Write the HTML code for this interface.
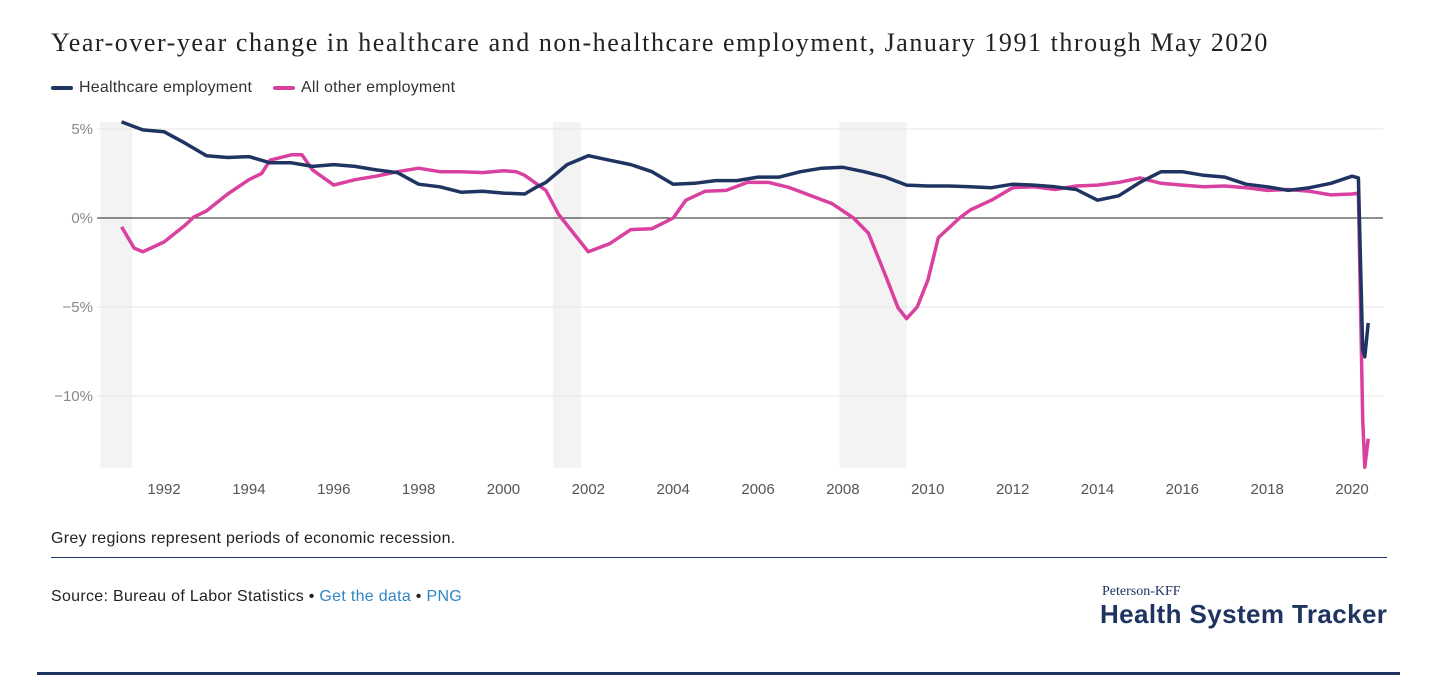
<!DOCTYPE html>
<html><head><meta charset="utf-8"><style>
body{margin:0;background:#fff;width:1440px;height:683px;overflow:hidden;font-family:"Liberation Sans",sans-serif;position:relative}
.t{position:absolute;white-space:nowrap}
</style></head><body>
<div class="t" style="left:51px;top:28px;font-family:'Liberation Serif',serif;font-size:26px;letter-spacing:1.55px;color:#222">Year-over-year change in healthcare and non-healthcare employment, January 1991 through May 2020</div>
<div class="t" style="left:51px;top:79px;font-size:16px;letter-spacing:0.2px;color:#333"><span style="display:inline-block;width:22px;height:4px;background:#1f3461;vertical-align:middle;margin-right:6px;border-radius:2px"></span>Healthcare employment</div>
<div class="t" style="left:273px;top:79px;font-size:16px;letter-spacing:0.2px;color:#333"><span style="display:inline-block;width:22px;height:4px;background:#d9409f;vertical-align:middle;margin-right:6px;border-radius:2px"></span>All other employment</div>
<svg id="chart" width="1440" height="520" style="position:absolute;left:0;top:0"></svg>
<div class="t" style="left:51px;top:530px;font-size:16px;letter-spacing:0.3px;color:#222">Grey regions represent periods of economic recession.</div>
<div style="position:absolute;left:51px;top:557px;width:1336px;height:1px;background:#1f3461"></div>
<div class="t" style="left:51px;top:588px;font-size:16px;letter-spacing:0.3px;color:#222">Source: Bureau of Labor Statistics • <span style="color:#2f86c4">Get the data</span> • <span style="color:#2f86c4">PNG</span></div>
<div class="t" style="left:1102px;top:584px;font-family:'Liberation Serif',serif;font-size:14px;color:#1f3461">Peterson-KFF</div>
<div class="t" style="left:1100px;top:599px;font-weight:bold;font-size:26px;color:#1f3461;letter-spacing:0.4px">Health System Tracker</div>
<div style="position:absolute;left:37px;top:672px;width:1363px;height:3px;background:#1f3461"></div>
<script>
const yTicks=[5,0,-5,-10];
const yTickLabels=["5%","0%","\u22125%","\u221210%"];
const xTicks=[1992,1994,1996,1998,2000,2002,2004,2006,2008,2010,2012,2014,2016,2018,2020];
const recessions=[[1990.5,1991.25],[2001.17,2001.83],[2007.92,2009.5]];
const hcT=[1991,1991.5,1992,1992.5,1993,1993.5,1994,1994.5,1995,1995.5,1996,1996.5,1997,1997.5,1998,1998.5,1999,1999.5,2000,2000.5,2000.75,2001,2001.5,2002,2002.5,2003,2003.5,2004,2004.5,2005,2005.5,2006,2006.5,2007,2007.5,2008,2008.5,2009,2009.5,2010,2010.5,2011,2011.5,2012,2012.5,2013,2013.5,2014,2014.5,2015,2015.5,2016,2016.5,2017,2017.5,2018,2018.5,2019,2019.5,2020,2020.15,2020.25,2020.3,2020.38];
const hcV=[5.4,4.95,4.85,4.2,3.5,3.4,3.45,3.1,3.1,2.9,3.0,2.9,2.7,2.55,1.9,1.75,1.45,1.5,1.4,1.35,1.7,2.0,3.0,3.5,3.25,3.0,2.6,1.9,1.95,2.1,2.1,2.3,2.3,2.6,2.8,2.85,2.6,2.3,1.85,1.8,1.8,1.75,1.7,1.9,1.85,1.75,1.6,1.0,1.25,2.0,2.6,2.6,2.4,2.3,1.9,1.75,1.55,1.7,1.95,2.35,2.25,-7.4,-7.8,-5.9];
const otT=[1991,1991.3,1991.5,1992,1992.5,1992.7,1993,1993.5,1994,1994.3,1994.5,1995,1995.25,1995.5,1996,1996.5,1997,1997.5,1998,1998.5,1999,1999.5,2000,2000.3,2000.5,2001,2001.3,2001.6,2002,2002.5,2003,2003.5,2004,2004.3,2004.75,2005.25,2005.75,2006.25,2006.75,2007.25,2007.75,2008.25,2008.6,2009,2009.3,2009.5,2009.75,2010,2010.25,2010.75,2011,2011.5,2012,2012.5,2013,2013.5,2014,2014.5,2015,2015.5,2016,2016.5,2017,2017.5,2018,2018.5,2019,2019.5,2020,2020.15,2020.25,2020.3,2020.38];
const otV=[-0.5,-1.7,-1.9,-1.35,-0.4,0.05,0.4,1.35,2.15,2.5,3.25,3.55,3.55,2.7,1.85,2.15,2.35,2.6,2.8,2.6,2.6,2.55,2.65,2.6,2.4,1.55,0.2,-0.7,-1.9,-1.45,-0.65,-0.6,0,1.0,1.5,1.55,2.0,2.0,1.7,1.25,0.8,0.0,-0.85,-3.2,-5.05,-5.65,-5.0,-3.5,-1.1,0,0.45,1.0,1.7,1.75,1.6,1.8,1.85,2.0,2.25,1.95,1.85,1.75,1.8,1.7,1.55,1.6,1.5,1.3,1.35,1.4,-11.3,-14.0,-12.4];
const NS="http://www.w3.org/2000/svg";
const svg=document.getElementById('chart');
const X=t=>121.6+(t-1991)*42.43;
const Y=v=>218-v*17.8;
const L=97,R=1383,T=122,B=468;
function mk(tag,attrs){const e=document.createElementNS(NS,tag);for(const k in attrs)e.setAttribute(k,attrs[k]);svg.appendChild(e);return e;}
recessions.forEach(r=>{const a=Math.max(L,X(r[0]));
const e=mk('rect',{x:a,y:T,width:X(r[1])-a,height:B-T,fill:'#f3f3f3'});

});
yTicks.forEach((v,i)=>{
const g=mk('line',{x1:L,x2:R,y1:Y(v),y2:Y(v),stroke:v===0?'#222':'#e6e6e6','stroke-width':1});


const t=mk('text',{x:L-4,y:Y(v)+5,'text-anchor':'end','font-size':15,fill:'#888','font-family':'Liberation Sans'});
t.textContent=yTickLabels[i];

});
xTicks.forEach(y=>{const t=mk('text',{x:X(y),y:494,'text-anchor':'middle','font-size':15,fill:'#555','font-family':'Liberation Sans'});
t.textContent=y;

});
function line(ts,vs,c,n){const d=ts.map((t,i)=>(i?'L':'M')+X(t).toFixed(1)+' '+Y(vs[i]).toFixed(1)).join('');
const p=mk('path',{d:d,fill:'none',stroke:c,'stroke-width':3.5,'stroke-linejoin':'round'});

}
line(otT,otV,'#d9409f','other-employment-line');
line(hcT,hcV,'#1f3461','healthcare-employment-line');
</script>
</body></html>
